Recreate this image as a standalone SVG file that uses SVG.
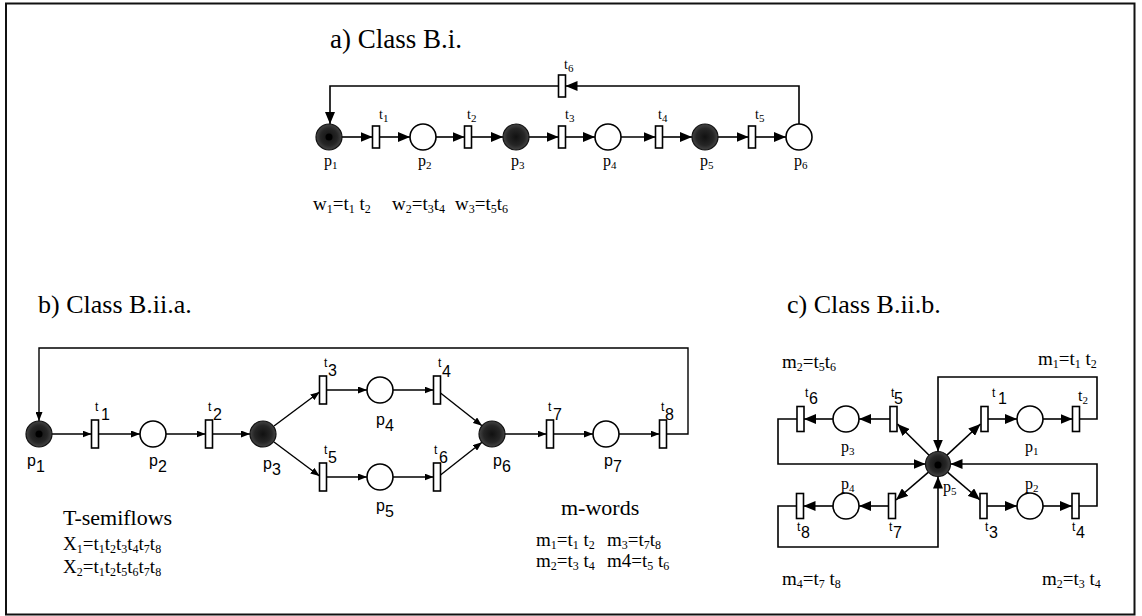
<svg xmlns="http://www.w3.org/2000/svg" width="1142" height="616" viewBox="0 0 1142 616">
<defs>
<style>
.e{fill:none;stroke:#000;stroke-width:1.6}
.eb{fill:none;stroke:#000;stroke-width:1.4}
.pl{fill:#fff;stroke:#000;stroke-width:1.6}
.pf{fill:url(#g);stroke:#111;stroke-width:1.2}
.tr{fill:#fff;stroke:#000;stroke-width:1.6}
.tk{fill:#000}
.ser{font-family:"Liberation Serif","Times New Roman",serif;fill:#000}
.san{font-family:"Liberation Sans",Arial,sans-serif;fill:#000}
.ttl{font-size:26px}
.big{font-size:22px}
.w{font-size:19px}
.s{font-size:12px}
.ta{font-size:14px}
.pa{font-size:16px}
.ps{font-size:11px}
.tb{font-size:12px}
.td{font-size:16px}
</style>
<radialGradient id="g" cx="50%" cy="50%" r="50%">
<stop offset="0" stop-color="#111"/>
<stop offset="0.65" stop-color="#262626"/>
<stop offset="1" stop-color="#444"/>
</radialGradient>
<marker id="a" markerUnits="userSpaceOnUse" markerWidth="12" markerHeight="10" refX="12" refY="5" orient="auto"><path d="M0,0 L12,5 L0,10 z" fill="#000"/></marker>
<marker id="b" markerUnits="userSpaceOnUse" markerWidth="9" markerHeight="7" refX="9" refY="3.5" orient="auto"><path d="M0,0 L9,3.5 L0,7 z" fill="#000"/></marker>
</defs>
<rect x="6" y="3.5" width="1128.5" height="611" fill="#fff" stroke="#111" stroke-width="2"/>

<!-- ========== Part a ========== -->
<text class="ser" x="330" y="48" font-size="27">a) Class B.i.</text>
<g id="connectors-a">
<path class="e" marker-end="url(#a)" d="M342,137 H372.5"/>
<path class="e" marker-end="url(#a)" d="M379.5,137 H410"/>
<path class="e" marker-end="url(#a)" d="M436,137 H464.5"/>
<path class="e" marker-end="url(#a)" d="M471.5,137 H503"/>
<path class="e" marker-end="url(#a)" d="M529,137 H558.5"/>
<path class="e" marker-end="url(#a)" d="M565.5,137 H595"/>
<path class="e" marker-end="url(#a)" d="M621,137 H655.5"/>
<path class="e" marker-end="url(#a)" d="M662.5,137 H692"/>
<path class="e" marker-end="url(#a)" d="M718,137 H748.5"/>
<path class="e" marker-end="url(#a)" d="M755.5,137 H786"/>
<path class="e" marker-end="url(#a)" d="M799,124 V86 H565.5"/>
<path class="e" marker-end="url(#a)" d="M558.5,86 H330 V124"/>
</g>
<g id="a-p1"><circle class="pf" cx="329" cy="137" r="13"/><circle class="tk" cx="329" cy="137" r="3.5"/><text class="ser pa" x="324" y="166">p<tspan class="ps" dy="3">1</tspan></text></g>
<g id="a-t1"><rect class="tr" x="372.5" y="126" width="7" height="22"/><text class="ser ta" x="379" y="119">t<tspan class="ps" dy="3">1</tspan></text></g>
<g id="a-p2"><circle class="pl" cx="423" cy="137" r="13"/><text class="ser pa" x="418" y="166">p<tspan class="ps" dy="3">2</tspan></text></g>
<g id="a-t2"><rect class="tr" x="464.5" y="126" width="7" height="22"/><text class="ser ta" x="467" y="119">t<tspan class="ps" dy="3">2</tspan></text></g>
<g id="a-p3"><circle class="pf" cx="516" cy="137" r="13"/><text class="ser pa" x="511" y="166">p<tspan class="ps" dy="3">3</tspan></text></g>
<g id="a-t3"><rect class="tr" x="558.5" y="126" width="7" height="22"/><text class="ser ta" x="565" y="119">t<tspan class="ps" dy="3">3</tspan></text></g>
<g id="a-p4"><circle class="pl" cx="608" cy="137" r="13"/><text class="ser pa" x="603" y="166">p<tspan class="ps" dy="3">4</tspan></text></g>
<g id="a-t4"><rect class="tr" x="655.5" y="126" width="7" height="22"/><text class="ser ta" x="658" y="119">t<tspan class="ps" dy="3">4</tspan></text></g>
<g id="a-p5"><circle class="pf" cx="705" cy="137" r="13"/><text class="ser pa" x="700" y="166">p<tspan class="ps" dy="3">5</tspan></text></g>
<g id="a-t5"><rect class="tr" x="748.5" y="126" width="7" height="22"/><text class="ser ta" x="755" y="119">t<tspan class="ps" dy="3">5</tspan></text></g>
<g id="a-p6"><circle class="pl" cx="799" cy="137" r="13"/><text class="ser pa" x="794" y="166">p<tspan class="ps" dy="3">6</tspan></text></g>
<g id="a-t6"><rect class="tr" x="558.5" y="75" width="7" height="22"/><text class="ser ta" x="564" y="69">t<tspan class="ps" dy="3">6</tspan></text></g>
<g id="a-words">
<text class="ser w" x="313" y="210">w<tspan class="s" dy="3">1</tspan><tspan dy="-3">=t</tspan><tspan class="s" dy="3">1</tspan><tspan dy="-3"> t</tspan><tspan class="s" dy="3">2</tspan></text>
<text class="ser w" x="392" y="210">w<tspan class="s" dy="3">2</tspan><tspan dy="-3">=t</tspan><tspan class="s" dy="3">3</tspan><tspan dy="-3">t</tspan><tspan class="s" dy="3">4</tspan></text>
<text class="ser w" x="455" y="210">w<tspan class="s" dy="3">3</tspan><tspan dy="-3">=t</tspan><tspan class="s" dy="3">5</tspan><tspan dy="-3">t</tspan><tspan class="s" dy="3">6</tspan></text>
</g>

<!-- ========== Part b ========== -->
<text class="ser ttl" x="38" y="313">b) Class B.ii.a.</text>
<g id="connectors-b">
<path class="eb" marker-end="url(#b)" d="M52,434 H91.5"/>
<path class="eb" marker-end="url(#b)" d="M98.5,434 H140"/>
<path class="eb" marker-end="url(#b)" d="M166,434 H205.5"/>
<path class="eb" marker-end="url(#b)" d="M212.5,434 H250"/>
<path class="eb" marker-end="url(#b)" d="M274,426 L319.5,392"/>
<path class="eb" marker-end="url(#b)" d="M274,442 L319.5,476"/>
<path class="eb" marker-end="url(#b)" d="M326.5,390 H367"/>
<path class="eb" marker-end="url(#b)" d="M326.5,477 H367"/>
<path class="eb" marker-end="url(#b)" d="M393,390 H433.5"/>
<path class="eb" marker-end="url(#b)" d="M393,477 H433.5"/>
<path class="eb" marker-end="url(#b)" d="M440.5,393 L482,425.8"/>
<path class="eb" marker-end="url(#b)" d="M440.5,475 L482,442.3"/>
<path class="eb" marker-end="url(#b)" d="M505,434 H546.5"/>
<path class="eb" marker-end="url(#b)" d="M553.5,434 H593"/>
<path class="eb" marker-end="url(#b)" d="M619,434 H659.5"/>
<path class="eb" marker-end="url(#b)" d="M666.5,434 H688 V348 H39 V421"/>
</g>
<g id="b-p1"><circle class="pf" cx="39" cy="434" r="13"/><circle class="tk" cx="39" cy="434" r="3.5"/><text class="san td" x="27" y="466">p<tspan dy="6">1</tspan></text></g>
<g id="b-t1"><rect class="tr" x="91.5" y="420" width="7" height="28"/><text class="san tb" x="95" y="411">t<tspan class="td" x="101" y="420">1</tspan></text></g>
<g id="b-p2"><circle class="pl" cx="153" cy="434" r="13"/><text class="san td" x="149" y="466">p<tspan dy="6">2</tspan></text></g>
<g id="b-t2"><rect class="tr" x="205.5" y="420" width="7" height="28"/><text class="san tb" x="208" y="411">t<tspan class="td" x="213" y="420">2</tspan></text></g>
<g id="b-p3"><circle class="pf" cx="263" cy="434" r="13"/><text class="san td" x="263" y="469">p<tspan dy="6">3</tspan></text></g>
<g id="b-t3"><rect class="tr" x="319.5" y="376" width="7" height="28"/><text class="san tb" x="324" y="367">t<tspan class="td" x="328" y="376">3</tspan></text></g>
<g id="b-t5"><rect class="tr" x="319.5" y="463" width="7" height="28"/><text class="san tb" x="324" y="454">t<tspan class="td" x="328" y="463">5</tspan></text></g>
<g id="b-p4"><circle class="pl" cx="380" cy="390" r="13"/><text class="san td" x="376" y="425">p<tspan dy="6">4</tspan></text></g>
<g id="b-p5"><circle class="pl" cx="380" cy="477" r="13"/><text class="san td" x="376" y="511">p<tspan dy="6">5</tspan></text></g>
<g id="b-t4"><rect class="tr" x="433.5" y="376" width="7" height="28"/><text class="san tb" x="438" y="367">t<tspan class="td" x="442" y="377">4</tspan></text></g>
<g id="b-t6"><rect class="tr" x="433.5" y="463" width="7" height="28"/><text class="san tb" x="434" y="454">t<tspan class="td" x="439" y="463">6</tspan></text></g>
<g id="b-p6"><circle class="pf" cx="492" cy="434" r="13"/><text class="san td" x="493" y="466">p<tspan dy="6">6</tspan></text></g>
<g id="b-t7"><rect class="tr" x="546.5" y="420" width="7" height="28"/><text class="san tb" x="548" y="411">t<tspan class="td" x="553" y="420">7</tspan></text></g>
<g id="b-p7"><circle class="pl" cx="606" cy="434" r="13"/><text class="san td" x="604" y="466">p<tspan dy="6">7</tspan></text></g>
<g id="b-t8"><rect class="tr" x="659.5" y="420" width="7" height="28"/><text class="san tb" x="661" y="411">t<tspan class="td" x="665" y="420">8</tspan></text></g>
<g id="b-semiflows">
<text class="ser big" x="63" y="525">T-semiflows</text>
<text class="ser w" x="63" y="550">X<tspan class="s" dy="3">1</tspan><tspan dy="-3">=t</tspan><tspan class="s" dy="3">1</tspan><tspan dy="-3">t</tspan><tspan class="s" dy="3">2</tspan><tspan dy="-3">t</tspan><tspan class="s" dy="3">3</tspan><tspan dy="-3">t</tspan><tspan class="s" dy="3">4</tspan><tspan dy="-3">t</tspan><tspan class="s" dy="3">7</tspan><tspan dy="-3">t</tspan><tspan class="s" dy="3">8</tspan></text>
<text class="ser w" x="63" y="573">X<tspan class="s" dy="3">2</tspan><tspan dy="-3">=t</tspan><tspan class="s" dy="3">1</tspan><tspan dy="-3">t</tspan><tspan class="s" dy="3">2</tspan><tspan dy="-3">t</tspan><tspan class="s" dy="3">5</tspan><tspan dy="-3">t</tspan><tspan class="s" dy="3">6</tspan><tspan dy="-3">t</tspan><tspan class="s" dy="3">7</tspan><tspan dy="-3">t</tspan><tspan class="s" dy="3">8</tspan></text>
</g>
<g id="b-mwords">
<text class="ser big" x="561" y="515">m-words</text>
<text class="ser w" x="536" y="546">m<tspan class="s" dy="3">1</tspan><tspan dy="-3">=t</tspan><tspan class="s" dy="3">1</tspan><tspan dy="-3"> t</tspan><tspan class="s" dy="3">2</tspan></text>
<text class="ser w" x="607" y="546">m<tspan class="s" dy="3">3</tspan><tspan dy="-3">=t</tspan><tspan class="s" dy="3">7</tspan><tspan dy="-3">t</tspan><tspan class="s" dy="3">8</tspan></text>
<text class="ser w" x="536" y="567">m<tspan class="s" dy="3">2</tspan><tspan dy="-3">=t</tspan><tspan class="s" dy="3">3</tspan><tspan dy="-3"> t</tspan><tspan class="s" dy="3">4</tspan></text>
<text class="ser w" x="607" y="567">m4=t<tspan class="s" dy="3">5</tspan><tspan dy="-3"> t</tspan><tspan class="s" dy="3">6</tspan></text>
</g>

<!-- ========== Part c ========== -->
<text class="ser ttl" x="787" y="313">c) Class B.ii.b.</text>
<g id="connectors-c">
<path class="e" marker-end="url(#a)" d="M929.1,455.2 L897.5,424"/>
<path class="e" marker-end="url(#a)" d="M946.9,455.2 L980.5,424"/>
<path class="e" marker-end="url(#a)" d="M928.5,472.1 L896,500"/>
<path class="e" marker-end="url(#a)" d="M947.5,472.1 L980,500"/>
<path class="e" marker-end="url(#a)" d="M890,419 H859"/>
<path class="e" marker-end="url(#a)" d="M833,419 H804"/>
<path class="e" marker-end="url(#a)" d="M988,419 H1017"/>
<path class="e" marker-end="url(#a)" d="M1043,419 H1072.5"/>
<path class="e" marker-end="url(#a)" d="M987,506 H1017"/>
<path class="e" marker-end="url(#a)" d="M1043,506 H1072"/>
<path class="e" marker-end="url(#a)" d="M888.5,506 H859"/>
<path class="e" marker-end="url(#a)" d="M833,506 H803.5"/>
<path class="e" marker-end="url(#a)" d="M797,419 H778 V464 H925.5"/>
<path class="e" marker-end="url(#a)" d="M1079.5,419 H1097 V377 H938 V451.5"/>
<path class="e" marker-end="url(#a)" d="M1079,506 H1097 V464 H950.5"/>
<path class="e" marker-end="url(#a)" d="M796.5,506 H778 V547 H938 V476.5"/>
</g>
<g id="c-p5"><circle class="pf" cx="938" cy="464" r="12.5"/><circle class="tk" cx="938" cy="465" r="3.5"/><text class="ser pa" x="943" y="492">p<tspan class="ps" dy="3">5</tspan></text></g>
<g id="c-t6"><rect class="tr" x="797" y="406.5" width="7" height="25"/><text class="san tb" x="805" y="397">t<tspan class="td" x="809" y="404">6</tspan></text></g>
<g id="c-p3"><circle class="pl" cx="846" cy="419" r="13"/><text class="ser pa" x="841" y="452">p<tspan class="ps" dy="3">3</tspan></text></g>
<g id="c-t5"><rect class="tr" x="890" y="406.5" width="7" height="25"/><text class="san tb" x="891" y="397">t<tspan class="td" x="894" y="404">5</tspan></text></g>
<g id="c-t1"><rect class="tr" x="981" y="406.5" width="7" height="25"/><text class="san tb" x="992" y="397">t<tspan class="td" x="998" y="404">1</tspan></text></g>
<g id="c-p1"><circle class="pl" cx="1030" cy="419" r="13"/><text class="ser pa" x="1025" y="452">p<tspan class="ps" dy="3">1</tspan></text></g>
<g id="c-t2"><rect class="tr" x="1072.5" y="406.5" width="7" height="25"/><text class="ser pa" x="1078" y="401">t<tspan class="ps" dy="3">2</tspan></text></g>
<g id="c-t3"><rect class="tr" x="980" y="493.5" width="7" height="25"/><text class="san tb" x="985" y="531">t<tspan class="td" x="989" y="538">3</tspan></text></g>
<g id="c-p2"><circle class="pl" cx="1030" cy="506" r="13"/><text class="ser pa" x="1025" y="489">p<tspan class="ps" dy="3">2</tspan></text></g>
<g id="c-t4"><rect class="tr" x="1072" y="493.5" width="7" height="25"/><text class="san tb" x="1072" y="531">t<tspan class="td" x="1076" y="538">4</tspan></text></g>
<g id="c-t7"><rect class="tr" x="888.5" y="493.5" width="7" height="25"/><text class="san tb" x="889" y="531">t<tspan class="td" x="893" y="538">7</tspan></text></g>
<g id="c-p4"><circle class="pl" cx="846" cy="506" r="13"/><text class="ser pa" x="841" y="489">p<tspan class="ps" dy="3">4</tspan></text></g>
<g id="c-t8"><rect class="tr" x="796.5" y="493.5" width="7" height="25"/><text class="san tb" x="797" y="531">t<tspan class="td" x="801" y="538">8</tspan></text></g>
<g id="c-words">
<text class="ser w" x="782" y="368">m<tspan class="s" dy="3">2</tspan><tspan dy="-3">=t</tspan><tspan class="s" dy="3">5</tspan><tspan dy="-3">t</tspan><tspan class="s" dy="3">6</tspan></text>
<text class="ser w" x="1038" y="365">m<tspan class="s" dy="3">1</tspan><tspan dy="-3">=t</tspan><tspan class="s" dy="3">1</tspan><tspan dy="-3"> t</tspan><tspan class="s" dy="3">2</tspan></text>
<text class="ser w" x="782" y="585">m<tspan class="s" dy="3">4</tspan><tspan dy="-3">=t</tspan><tspan class="s" dy="3">7</tspan><tspan dy="-3"> t</tspan><tspan class="s" dy="3">8</tspan></text>
<text class="ser w" x="1042" y="585">m<tspan class="s" dy="3">2</tspan><tspan dy="-3">=t</tspan><tspan class="s" dy="3">3</tspan><tspan dy="-3"> t</tspan><tspan class="s" dy="3">4</tspan></text>
</g>
</svg>
